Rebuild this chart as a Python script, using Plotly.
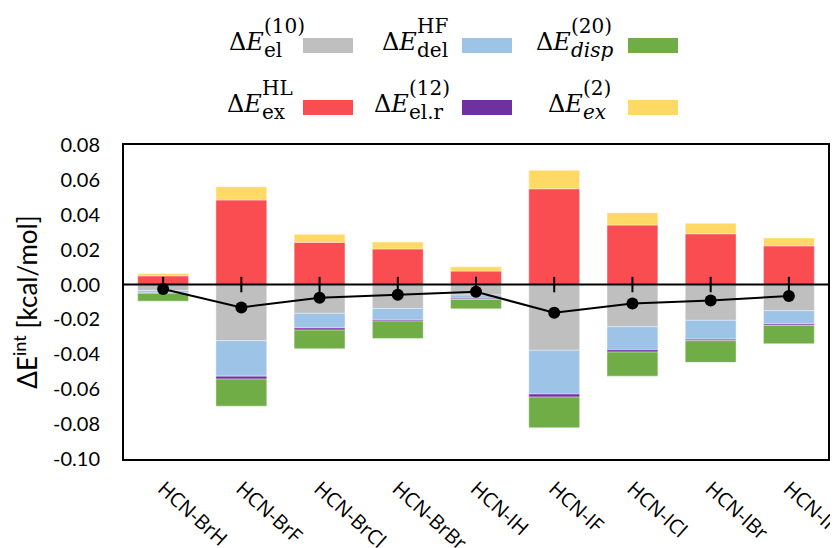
import plotly.graph_objects as go
import numpy as np

categories = ["HCN-BrH", "HCN-BrF", "HCN-BrCl", "HCN-BrBr", "HCN-IH",
              "HCN-IF", "HCN-ICl", "HCN-IBr", "HCN-II"]

el10 = [-0.0035, -0.0322, -0.0165, -0.0137, -0.0060, -0.0377, -0.0242, -0.0205, -0.0150]
del_hf = [-0.0012, -0.0203, -0.0084, -0.0065, -0.0019, -0.0251, -0.0132, -0.0108, -0.0076]
el_r12 = [-0.0003, -0.0017, -0.0012, -0.0007, -0.0006, -0.0017, -0.0013, -0.0009, -0.0008]
disp20 = [-0.0045, -0.0155, -0.0107, -0.0100, -0.0054, -0.0176, -0.0138, -0.0124, -0.0105]
ex_hl = [0.0050, 0.0485, 0.0242, 0.0204, 0.0077, 0.0549, 0.0341, 0.0291, 0.0222]
ex2 = [0.0014, 0.0076, 0.0046, 0.0040, 0.0025, 0.0106, 0.0071, 0.0060, 0.0045]
total = [-0.0026, -0.0131, -0.0076, -0.0058, -0.0041, -0.0162, -0.0108, -0.0091, -0.0066]

y_tickvals = [0.08, 0.06, 0.04, 0.02, 0.0, -0.02, -0.04, -0.06, -0.08, -0.10]
y_ticktext = ["0.08", "0.06", "0.04", "0.02", "0.00", "-0.02", "-0.04", "-0.06", "-0.08", "-0.10"]

colors = {
    "el10": "#BFBFBF", "del": "#9DC3E6", "elr": "#7030A0",
    "disp": "#70AD47", "exhl": "#F94D51", "ex2": "#FFD966",
}

xs = np.arange(len(categories))

W, H = 838, 548
# page body has an 8px margin; plot area wanted at x 124..828, y 145..459 on screen
L, T = 116, 137
PW, PH = 704, 314
R = W - L - PW
B = H - T - PH

fig = go.Figure()
edge = dict(color="rgba(255,255,255,0.5)", width=0.8)
for vals, key in [(el10, "el10"), (del_hf, "del"), (el_r12, "elr"), (disp20, "disp"),
                  (ex_hl, "exhl"), (ex2, "ex2")]:
    fig.add_trace(go.Bar(x=xs, y=vals, marker=dict(color=colors[key], line=edge),
                         width=0.65, showlegend=False, hoverinfo="skip"))

# zero line (full width)
fig.add_trace(go.Scatter(x=[-0.5, len(categories) - 0.5], y=[0, 0], mode="lines",
                         line=dict(color="black", width=2), showlegend=False, hoverinfo="skip"))
# crossing tick marks at zero
fig.add_trace(go.Scatter(x=xs, y=[0] * len(xs), mode="markers",
                         marker=dict(symbol="line-ns", size=11, line=dict(color="black", width=2)),
                         showlegend=False, hoverinfo="skip"))
# total
fig.add_trace(go.Scatter(x=xs, y=total, mode="lines+markers",
                         line=dict(color="black", width=2),
                         marker=dict(color="black", size=12), showlegend=False))


def px(xp):
    # screen x -> paper
    return (xp - 124) / PW


def py(yp):
    # screen y -> paper
    return (459 - yp) / PH


ann = []
shapes = []
serif = "DejaVu Serif"
entries = [
    # (delta_x, sup, sub, swatch_x, row, colorkey)
    (227, "(10)", "el", 303, 0, "el10"),
    (380, "HF", "del", 462, 0, "del"),
    (534, "(20)", "<i>disp</i>", 628, 0, "disp"),
    (225, "HL", "ex", 303, 1, "exhl"),
    (372, "(12)", "el.r", 462, 1, "elr"),
    (546, "(2)", "<i>ex</i>", 628, 1, "ex2"),
]
for dx, sup, sub, swx, row, key in entries:
    off = 62 * row
    sx = dx + 35
    ann.append(dict(x=px(dx), y=py(42 + off), xref="paper", yref="paper", text="Δ<i>E</i>",
                    showarrow=False, xanchor="left", yanchor="middle",
                    font=dict(family=serif, size=24, color="black")))
    ann.append(dict(x=px(sx), y=py(26 + off), xref="paper", yref="paper", text=sup,
                    showarrow=False, xanchor="left", yanchor="middle",
                    font=dict(family=serif, size=20, color="black")))
    ann.append(dict(x=px(sx), y=py(50 + off), xref="paper", yref="paper", text=sub,
                    showarrow=False, xanchor="left", yanchor="middle",
                    font=dict(family=serif, size=20, color="black")))
    shapes.append(dict(type="rect", xref="paper", yref="paper",
                       x0=px(swx), x1=px(swx + 50), y0=py(53 + off), y1=py(38 + off),
                       fillcolor=colors[key], line=dict(width=0)))

fig.update_layout(
    width=W, height=H,
    margin=dict(l=L, r=R, t=T, b=B, autoexpand=False),
    barmode="relative",
    bargap=0.35,
    plot_bgcolor="white", paper_bgcolor="white",
    annotations=ann, shapes=shapes,
    showlegend=False,
    xaxis=dict(range=[-0.5, len(categories) - 0.5], tickvals=xs, ticktext=categories,
               tickangle=42, showgrid=False, zeroline=False, ticks="",
               showline=True, mirror=True, linecolor="black", linewidth=2,
               ticklabelstandoff=8,
               tickfont=dict(family="Open Sans", size=20, color="black")),
    yaxis=dict(range=[-0.10, 0.08], tickvals=y_tickvals, ticktext=y_ticktext,
               showgrid=False, zeroline=False, ticks="",
               showline=True, mirror=True, linecolor="black", linewidth=2,
               ticklabelstandoff=18,
               tickfont=dict(family="Lato", size=20, color="black"),
               title=dict(text="ΔE<sup>int</sup> [kcal/mol]", standoff=12,
                          font=dict(family="Lato", size=26, color="black"))),
)

fig.write_html("out.html")
